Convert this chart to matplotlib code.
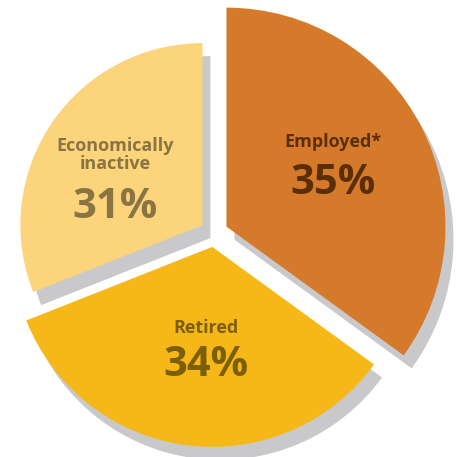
import matplotlib.pyplot as plt
import numpy as np
from matplotlib.patches import Wedge

# data
labels = ["Employed*", "Retired", "Economically\ninactive"]
shares = [35, 34, 31]

# styling / layout (pixel units, y measured upward)
FILL = ["#D5792A", "#F6B818", "#FBD47B"]
INK = ["#5B2E08", "#7C5F05", "#8A7443"]
SHADOW = "#C9C9CB"
RADIUS = [219, 200, 182]
CENTER = (214, 224)
EXPLODE = 14
SHADOW_OFFSET = (8, -13)
# (x, y of category label, y of percentage)
LABEL_POS = [(333, 315, 274), (206, 129, 92), (115, 302, 249)]

W = H = 457
fig = plt.figure(figsize=(W / 100, H / 100), dpi=100)
fig.patch.set_facecolor("white")
ax = fig.add_axes([0, 0, 1, 1])
ax.set_xlim(0, W)
ax.set_ylim(0, H)
ax.set_aspect("equal")
ax.axis("off")

sweep = np.array(shares) / np.sum(shares) * 360
starts = 90 - np.concatenate([[0], np.cumsum(sweep)[:-1]])
ends = starts - sweep

slices = []
for i in range(len(shares)):
    mid = np.deg2rad((starts[i] + ends[i]) / 2)
    cx = CENTER[0] + EXPLODE * np.cos(mid)
    cy = CENTER[1] + EXPLODE * np.sin(mid)
    slices.append((cx, cy))

# shadows first, then the slices on top
for i, (cx, cy) in enumerate(slices):
    ax.add_patch(Wedge((cx + SHADOW_OFFSET[0], cy + SHADOW_OFFSET[1]), RADIUS[i],
                       ends[i], starts[i], facecolor=SHADOW, edgecolor="none", zorder=1))
for i, (cx, cy) in enumerate(slices):
    ax.add_patch(Wedge((cx, cy), RADIUS[i], ends[i], starts[i],
                       facecolor=FILL[i], edgecolor="none", zorder=2))

for i, lab in enumerate(labels):
    x, yl, yp = LABEL_POS[i]
    ax.text(x, yl, lab, ha="center", va="center", fontsize=13, fontweight="bold",
            family="Open Sans", color=INK[i], linespacing=0.95, zorder=3)
    ax.text(x, yp, f"{shares[i]}%", ha="center", va="center", fontsize=30,
            fontweight="bold", family="Open Sans", color=INK[i], zorder=3)

fig.savefig("out.png", dpi=100, facecolor="white")
